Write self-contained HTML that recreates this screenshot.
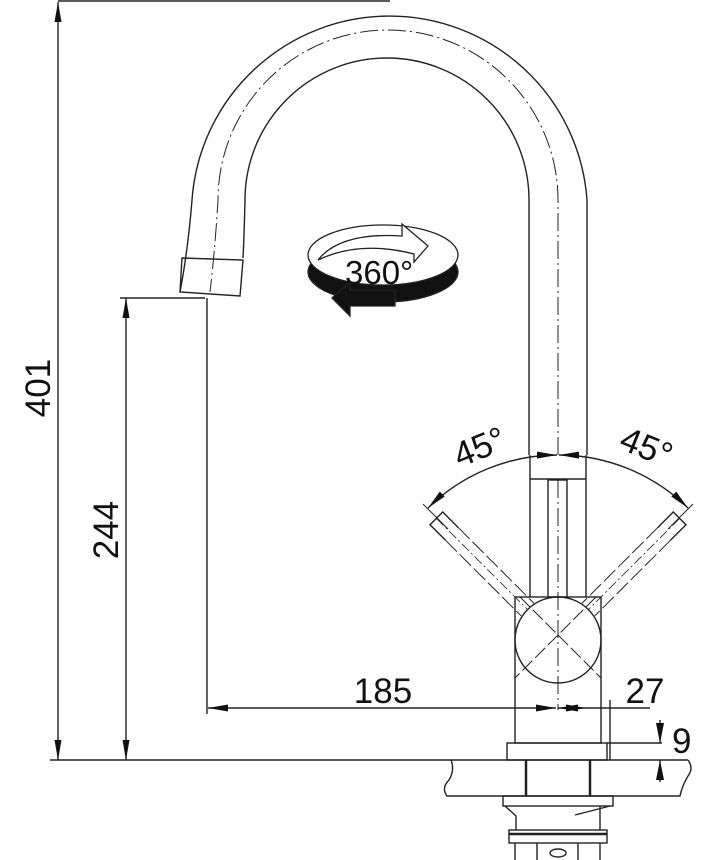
<!DOCTYPE html>
<html><head><style>html,body{margin:0;padding:0;background:#fff}svg{display:block}</style></head>
<body>
<svg width="712" height="860" viewBox="0 0 712 860" xmlns="http://www.w3.org/2000/svg" font-family="Liberation Sans, sans-serif">
<defs>
<marker id="a" viewBox="0 0 20 10" refX="20" refY="5" markerWidth="20" markerHeight="10" markerUnits="userSpaceOnUse" orient="auto-start-reverse">
<path d="M0,1 L20,5 L0,9z" fill="#111"/></marker>
<marker id="b" viewBox="0 0 20 10" refX="20" refY="5" markerWidth="20" markerHeight="10" markerUnits="userSpaceOnUse" orient="auto-start-reverse">
<path d="M0,1.5 L20,5 L0,8.5z" fill="#111"/></marker>
</defs>
<g stroke="#222" stroke-width="1.4" fill="none">
<path d="M587,455 L587,200 A198,198 0 0 0 192,200 Q188,250 180,292"/>
<path d="M529,455 L529,200 A142,142 0 0 0 245,200 Q244,240 243,258"/>
<path d="M558,455 L558,200 A170,170 0 0 0 218,200 Q215,250 210,292" stroke-dasharray="18,4,2,4" stroke-width="1"/>
<path d="M182,258 L243,260 L240,296 L180,292 Z"/>
<line x1="530" y1="455" x2="530" y2="597"/>
<line x1="586" y1="455" x2="586" y2="597"/>
<line x1="530" y1="479" x2="586" y2="479"/>
<rect x="548" y="480" width="19" height="117"/>
<line x1="558" y1="480" x2="558" y2="710" stroke-dasharray="18,4,2,4" stroke-width="1"/>
<rect x="515" y="597" width="86" height="146"/>
<circle cx="558" cy="640" r="43"/>
<line x1="520" y1="597" x2="601" y2="678" stroke-dasharray="14,4" stroke-width="1"/>
<line x1="596" y1="597" x2="515" y2="678" stroke-dasharray="14,4" stroke-width="1"/>
<g transform="rotate(-45 558 640)">
<path d="M549,490 L549,597 M567,490 L567,597" stroke-dasharray="16,4" stroke-width="1"/>
<path d="M549,490 L549,468 L567,468 L567,490"/>
<line x1="558" y1="468" x2="558" y2="597" stroke-dasharray="10,3,2,3" stroke-width="0.8"/>
</g>
<g transform="rotate(45 558 640)">
<path d="M549,490 L549,597 M567,490 L567,597" stroke-dasharray="16,4" stroke-width="1"/>
<path d="M549,490 L549,468 L567,468 L567,490"/>
<line x1="558" y1="468" x2="558" y2="597" stroke-dasharray="10,3,2,3" stroke-width="0.8"/>
</g>
<path d="M428,508 A185,185 0 0 1 557,455" marker-start="url(#b)" marker-end="url(#b)"/>
<path d="M559,455 A185,185 0 0 1 688,508" marker-start="url(#b)" marker-end="url(#b)"/>
<line x1="423" y1="504" x2="448" y2="529" stroke-width="1"/>
<line x1="693" y1="504" x2="668" y2="529" stroke-width="1"/>
<rect x="507" y="743" width="100" height="17"/>
<line x1="607" y1="743" x2="662" y2="743"/>
<line x1="50" y1="760" x2="688" y2="760"/>
<path d="M688,760 q6,8 0,16 q-6,10 -8,20 L447,796 q-6,-8 2,-16 q6,-10 2,-20"/>
<line x1="526" y1="760" x2="526" y2="796" stroke-width="2.5"/>
<line x1="590" y1="760" x2="590" y2="796" stroke-width="2.5"/>
<rect x="503" y="796" width="110" height="10"/>
<path d="M505,806 L516,816 L516,830 M600,806 L600,830 M575,815 L610,806"/>
<rect x="509" y="830" width="98" height="13"/>
<line x1="509" y1="834" x2="607" y2="834" stroke-width="2.5"/>
<path d="M515,843 L515,860 M600,843 L600,860 M537,843 L537,860 M578,843 L578,860"/>
<ellipse cx="558" cy="853" rx="8" ry="4"/>
<line x1="58" y1="2" x2="58" y2="760" marker-start="url(#b)" marker-end="url(#b)"/>
<line x1="58" y1="1" x2="390" y2="1"/>
<line x1="126" y1="298" x2="126" y2="760" marker-start="url(#b)" marker-end="url(#b)"/>
<line x1="120" y1="298" x2="205" y2="298"/>
<line x1="207" y1="298" x2="207" y2="714"/>
<line x1="208" y1="708" x2="556" y2="708" marker-start="url(#b)" marker-end="url(#b)"/>
<line x1="558" y1="708" x2="586" y2="708" marker-start="url(#b)" marker-end="url(#b)"/>
<line x1="586" y1="708" x2="650" y2="708"/>
<line x1="610" y1="700" x2="610" y2="760"/>
<line x1="660" y1="720" x2="660" y2="743" marker-end="url(#a)"/>
<line x1="660" y1="782" x2="660" y2="760" marker-end="url(#a)"/>
</g>
<g stroke="#222" stroke-width="1.3">
<ellipse cx="383" cy="272" rx="75" ry="30" fill="#111"/>
<path d="M332,298 L350,282 L350,290 L395,290 L395,306 L350,306 L350,316 Z" fill="#111"/>
<ellipse cx="383" cy="255" rx="75" ry="30" fill="#fff"/>
<path d="M318,260 Q340,232 402,236 L402,224 L428,246 L414,262 L414,254 Q360,240 318,260 Z" fill="#fff"/>
</g>
<g fill="#111" font-size="35">
<text x="345" y="284" font-size="33">360°</text>
<text x="383" y="703" text-anchor="middle">185</text>
<text x="645" y="703" text-anchor="middle">27</text>
<text x="672" y="753">9</text>
<text transform="translate(50,388) rotate(-90)" text-anchor="middle">401</text>
<text transform="translate(118,530) rotate(-90)" text-anchor="middle">244</text>
<text transform="translate(484,458) rotate(-22)" text-anchor="middle">45°</text>
<text transform="translate(642,458) rotate(22)" text-anchor="middle">45°</text>
</g>
</svg>
</body></html>
